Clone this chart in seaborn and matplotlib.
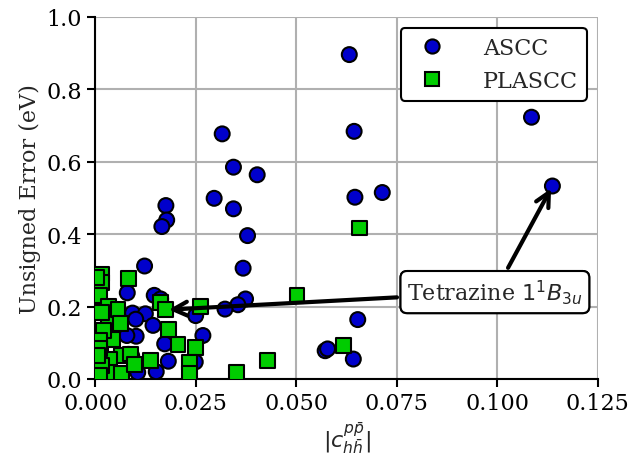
import matplotlib
matplotlib.use("Agg")
import matplotlib.pyplot as plt
import seaborn as sns
import pandas as pd

ascc_x = [0.0632, 0.0644, 0.1085, 0.1137, 0.0646, 0.0714, 0.0653, 0.0572, 0.0578, 0.0642,
          0.0316, 0.0344, 0.0403, 0.0296, 0.0344, 0.0379, 0.0368, 0.0374, 0.0355, 0.0323,
          0.0250, 0.0268, 0.0249, 0.0176, 0.0178, 0.0166, 0.0123, 0.0080, 0.0147, 0.0163,
          0.0093, 0.0125, 0.0101, 0.0144, 0.0102, 0.0079, 0.0173, 0.0083, 0.0182, 0.0106,
          0.0152, 0.0091]
ascc_y = [0.896, 0.684, 0.723, 0.533, 0.502, 0.515, 0.164, 0.078, 0.083, 0.055,
          0.677, 0.585, 0.564, 0.499, 0.470, 0.396, 0.306, 0.221, 0.205, 0.193,
          0.175, 0.120, 0.047, 0.479, 0.439, 0.421, 0.312, 0.238, 0.231, 0.221,
          0.182, 0.180, 0.165, 0.148, 0.118, 0.120, 0.097, 0.068, 0.049, 0.018,
          0.020, 0.064]

plascc_x = [0.0657, 0.0502, 0.0617, 0.0263, 0.0249, 0.0234, 0.0234, 0.0352, 0.0428, 0.0206,
            0.0084, 0.0015, 0.0016, 0.0012, 0.0162, 0.0176, 0.0033, 0.0033, 0.0057, 0.0063,
            0.0183, 0.0044, 0.0065, 0.0014, 0.0037, 0.0137, 0.0036, 0.0066, 0.0087, 0.0099,
            0.0017, 0.0021, 0.0012, 0.0012, 0.0017, 0.0012, 0.0006, 0.0003]
plascc_y = [0.417, 0.230, 0.092, 0.200, 0.088, 0.046, 0.014, 0.018, 0.051, 0.096,
            0.278, 0.290, 0.267, 0.230, 0.212, 0.191, 0.200, 0.168, 0.191, 0.152,
            0.137, 0.108, 0.064, 0.064, 0.054, 0.050, 0.018, 0.016, 0.069, 0.041,
            0.184, 0.133, 0.106, 0.083, 0.037, 0.009, 0.064, 0.280]

methods = ["ASCC", "PLASCC"]
tetrazine_ascc = (0.1137, 0.533)
tetrazine_plascc = (0.0176, 0.191)
label_pos = (0.0994, 0.240)

df = pd.DataFrame({
    "x": ascc_x + plascc_x,
    "y": ascc_y + plascc_y,
    "method": ["ASCC"] * len(ascc_x) + ["PLASCC"] * len(plascc_x),
})

sns.set_style("whitegrid", {
    "axes.edgecolor": "black",
    "grid.color": "#b0b0b0",
    "xtick.bottom": True,
    "ytick.left": True,
    "xtick.color": "black",
    "ytick.color": "black",
})
plt.rcParams["font.family"] = ["DejaVu Serif"]
plt.rcParams["mathtext.fontset"] = "dejavusans"

fig = plt.figure(figsize=(6.34, 4.6), dpi=100)
ax = fig.add_axes([0.150, 0.174, 0.793, 0.787])

sns.scatterplot(data=df, x="x", y="y", hue="method", style="method",
                hue_order=methods, style_order=methods,
                palette={"ASCC": "#0000cc", "PLASCC": "#00cc00"},
                markers={"ASCC": "o", "PLASCC": "s"},
                s=115, edgecolor="black", linewidth=1.5, ax=ax, zorder=3)

ax.set_xlim(0, 0.125)
ax.set_ylim(0, 1.0)
ax.set_xticks([0.0, 0.025, 0.05, 0.075, 0.1, 0.125])
ax.set_xticklabels(["0.000", "0.025", "0.050", "0.075", "0.100", "0.125"])
ax.set_yticks([0.0, 0.2, 0.4, 0.6, 0.8, 1.0])
ax.tick_params(axis="both", labelsize=16, length=6, width=1.5, direction="out")
ax.grid(True, color="#b0b0b0", linewidth=1.5)
sns.despine(ax=ax, top=True, right=True)
for sp in ["left", "bottom"]:
    ax.spines[sp].set_linewidth(1.5)
    ax.spines[sp].set_color("black")

ax.set_xlabel(r"$|c_{h\bar{h}}^{p\bar{p}}|$", fontsize=16)
ax.set_ylabel("Unsigned Error (eV)", fontsize=16)

leg = ax.legend(loc="upper right", fontsize=16, frameon=True, fancybox=True,
                handletextpad=1.3, borderpad=0.4, markerscale=0.95)
leg.get_frame().set_edgecolor("black")
leg.get_frame().set_linewidth(1.5)
leg.get_frame().set_alpha(1.0)

bbox = dict(boxstyle="round,pad=0.3", fc="white", ec="black", lw=1.5)
arrow = dict(arrowstyle="->", lw=3, color="black", mutation_scale=25)
label = r"Tetrazine $1^1B_{3u}$"
ax.annotate(label, xy=tetrazine_ascc, xytext=label_pos, fontsize=16,
            ha="center", va="center", bbox=bbox, arrowprops=arrow, zorder=5)
ax.annotate(label, xy=tetrazine_plascc, xytext=label_pos, fontsize=16,
            ha="center", va="center", bbox=bbox, arrowprops=arrow, zorder=5)

fig.savefig("out.png", dpi=100)
